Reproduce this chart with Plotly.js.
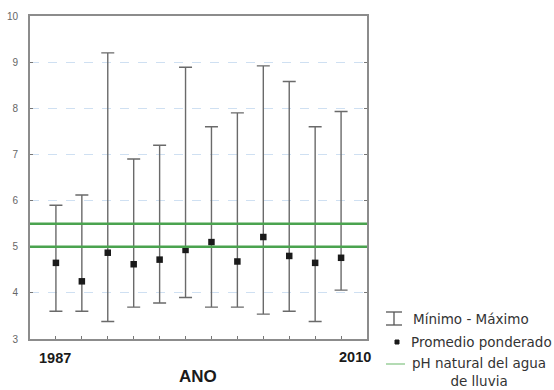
<!DOCTYPE html>
<html>
<head>
<meta charset="utf-8">
<script src="https://cdn.plot.ly/plotly-3.0.1.min.js"></script>
<style>html,body{margin:0;padding:0;background:#fff;}#chart{width:554px;height:390px;}</style>
</head>
<body>
<div id="chart"></div>
<script>
// Data
const periods = [1, 2, 3, 4, 5, 6, 7, 8, 9, 10, 11, 12];
const maxValues = [5.9, 6.12, 9.2, 6.9, 7.2, 8.89, 7.6, 7.9, 8.92, 8.58, 7.6, 7.93];
const meanValues = [4.65, 4.25, 4.87, 4.62, 4.72, 4.93, 5.1, 4.68, 5.21, 4.8, 4.65, 4.76];
const minValues = [3.6, 3.6, 3.38, 3.69, 3.78, 3.9, 3.69, 3.69, 3.54, 3.6, 3.38, 4.06];
const naturalPH = [5.0, 5.5];
const tickLabels = ['1987', '2010'];
const legendLabels = ['Mínimo - Máximo', 'Promedio ponderado', 'pH natural del agua<br>de lluvia'];

// plot area geometry (pixels) for paper-coordinate decorations
const L = 30, R = 367, T = 16, B = 339, W = 554, H = 390;
const px = x => (x - L) / (R - L);
const py = y => (B - y) / (B - T);

const errPlus = maxValues.map((v, i) => v - meanValues[i]);
const errMinus = meanValues.map((v, i) => v - minValues[i]);

const traces = [{
  type: 'scatter',
  mode: 'markers',
  x: periods,
  y: meanValues,
  marker: {symbol: 'square', size: 6.5, color: '#1a1a1a'},
  error_y: {type: 'data', symmetric: false, array: errPlus, arrayminus: errMinus,
            color: '#6a6a6a', thickness: 1.4, width: 6.5},
  showlegend: false,
  hoverinfo: 'skip'
}];

const green = '#4aa34f';
const shapes = naturalPH.map(v => ({
  type: 'line', xref: 'paper', yref: 'y', x0: 0, x1: 1, y0: v, y1: v,
  line: {color: green, width: 2.5}
}));

// legend icons
const gl = '#555';
shapes.push({type: 'line', xref: 'paper', yref: 'paper', x0: px(394), x1: px(394), y0: py(312), y1: py(325), line: {color: gl, width: 1.3}});
shapes.push({type: 'line', xref: 'paper', yref: 'paper', x0: px(386), x1: px(402), y0: py(312), y1: py(312), line: {color: gl, width: 1.3}});
shapes.push({type: 'line', xref: 'paper', yref: 'paper', x0: px(386), x1: px(402), y0: py(325), y1: py(325), line: {color: gl, width: 1.3}});
shapes.push({type: 'rect', xref: 'paper', yref: 'paper', x0: px(395), x1: px(399), y0: py(340), y1: py(344), line: {color: '#1a1a1a', width: 1}, fillcolor: '#1a1a1a'});
shapes.push({type: 'line', xref: 'paper', yref: 'paper', x0: px(386), x1: px(405), y0: py(364), y1: py(364), line: {color: '#8cc88c', width: 1.3}});

const txt = '#333';
const fam = 'Liberation Sans, Arial';
const legFam = 'DejaVu Sans, Liberation Sans';
function ann(text, x, y, xanchor, size, color, family, extra) {
  return Object.assign({text: text, xref: 'paper', yref: 'paper', x: px(x), y: py(y),
    xanchor: xanchor, yanchor: 'middle', showarrow: false,
    font: {family: family, size: size, color: color}}, extra || {});
}
const annotations = [
  ann('<b>' + tickLabels[0] + '</b>', 55, 358, 'center', 14.5, '#1a1a1a', fam),
  ann('<b>' + tickLabels[1] + '</b>', 355, 357, 'center', 14.5, '#1a1a1a', fam),
  ann('<b>ANO</b>', 198, 376, 'center', 17, '#1a1a1a', fam),
  ann(legendLabels[0], 411, 319, 'left', 13.5, txt, legFam),
  ann(legendLabels[1], 409, 342, 'left', 13.5, txt, legFam),
  ann(legendLabels[2], 479, 372, 'center', 13.5, txt, legFam, {align: 'center'})
];

const layout = {
  width: W, height: H,
  margin: {l: L, r: W - R, t: T, b: H - B},
  paper_bgcolor: '#fff', plot_bgcolor: '#fff',
  showlegend: false,
  xaxis: {
    range: [0, 13], tickvals: periods, showticklabels: false,
    ticks: 'inside', ticklen: 3, tickcolor: '#777',
    showgrid: false, zeroline: false,
    showline: true, linecolor: '#8c8c8c', linewidth: 2, mirror: true
  },
  yaxis: {
    range: [3, 10], dtick: 1, tick0: 3,
    ticks: 'inside', ticklen: 3, tickcolor: '#777',
    tickfont: {family: fam, size: 10, color: '#666'},
    ticklabelstandoff: 8,
    showgrid: true, gridcolor: '#cfe0f2', griddash: 'dash', gridwidth: 1,
    zeroline: false,
    showline: true, linecolor: '#8c8c8c', linewidth: 2, mirror: 'ticks'
  },
  shapes: shapes,
  annotations: annotations
};

Plotly.newPlot('chart', traces, layout, {staticPlot: true, displayModeBar: false});
</script>
</body>
</html>
